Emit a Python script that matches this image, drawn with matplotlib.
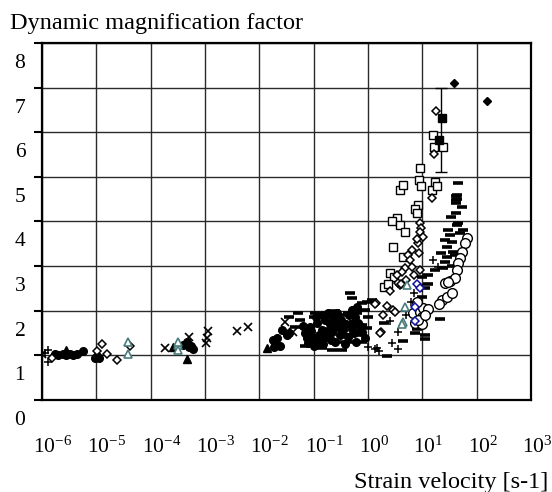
import matplotlib
matplotlib.use('Agg')
import matplotlib.pyplot as plt
import matplotlib.transforms as mtransforms

plt.rcParams['font.family'] = ['Liberation Serif', 'DejaVu Serif']
plt.rcParams['mathtext.fontset'] = 'custom'
plt.rcParams['mathtext.rm'] = 'Liberation Serif'
plt.rcParams['mathtext.it'] = 'Liberation Serif:italic'

# strain velocity [1/s] and dynamic magnification factor per marker group
filled_circle_x = [1.74e-6, 2.0e-6, 2.4e-6, 2.8e-6, 3.3e-6, 3.8e-6, 4.4e-6, 5.6e-6, 9.5e-6, 1.05e-5, 1.1e-5,
                   4.0e-4, 4.7e-4, 5.1e-4, 5.6e-4, 6.0e-4,
                   1.8e-2, 1.9e-2, 1.95e-2, 2.1e-2, 2.4e-2, 2.6e-2, 3.2e-2, 3.5e-2,
                   0.069, 0.085, 0.095, 0.115, 0.14, 0.16, 0.18, 0.23, 0.27, 0.17, 0.22, 0.28, 0.35, 0.43,
                   0.51, 0.58, 0.66, 0.78, 0.89, 0.63, 0.117, 0.078, 0.10, 0.20, 0.32, 0.14, 0.40, 0.50,
                   0.25, 0.063, 0.126, 0.075, 0.09, 0.13, 0.19, 0.30, 0.45, 0.55, 0.70,
                   0.11, 0.15, 0.21, 0.26, 0.37, 0.48, 0.60]
filled_circle_y = [1.02, 1.0, 1.03, 1.0, 1.04, 1.0, 1.02, 1.1, 0.94, 0.98, 0.95,
                   1.23, 1.3, 1.19, 1.22, 1.15,
                   1.35, 1.19, 1.3, 1.39, 1.22, 1.57, 1.46, 1.5,
                   1.5, 1.64, 1.41, 1.73, 1.57, 1.79, 1.95, 1.86, 1.95, 1.41, 1.52, 1.64, 1.57, 1.41,
                   2.02, 1.86, 1.73, 1.52, 1.39, 2.09, 1.3, 1.28, 1.2, 1.7, 1.8, 1.9, 1.7, 1.6,
                   1.3, 1.65, 1.45, 1.4, 1.55, 1.35, 1.5, 1.45, 1.9, 1.5, 1.65,
                   1.85, 1.25, 1.35, 1.75, 1.25, 1.7, 1.3]

dash_x = [0.046, 0.056, 0.051, 0.105, 0.069, 0.115, 0.14, 0.22, 0.31, 0.47, 0.51, 0.78, 0.95, 1.17,
          0.87, 0.78, 0.95, 0.78, 0.51, 0.33, 0.20, 0.35, 0.56, 0.40, 0.035, 0.10, 0.25, 0.63, 1.0, 0.71,
          2.0, 4.4, 7.4, 11.2, 11.2, 21, 2.2, 7.9, 10, 11.2, 12.6, 17, 12.6, 10,
          44, 43, 41, 54, 41, 33, 46, 44, 30, 49, 26, 35, 28, 37, 26, 46, 42, 42, 32, 40, 24, 35, 22, 28, 56,
          0.08, 0.17, 0.29, 0.42, 0.65]
dash_y = [1.64, 1.79, 1.95, 1.95, 1.21, 1.19, 1.17, 1.12, 1.3, 2.4, 2.29, 2.17, 2.2, 2.24,
          2.02, 1.68, 1.61, 1.3, 1.3, 1.12, 1.6, 1.9, 1.75, 1.45, 1.85, 1.85, 2.0, 1.95, 1.85, 1.45,
          1.73, 1.32, 1.5, 1.46, 1.37, 1.82, 0.99, 1.6, 2.3, 2.5, 2.6, 2.91, 2.8, 2.75,
          4.6, 4.5, 4.41, 4.33, 4.19, 4.1, 3.97, 3.92, 3.81, 3.74, 3.59, 3.54, 3.43, 3.32, 3.09,
          4.87, 4.57, 4.48, 3.7, 3.25, 2.95, 3.0, 3.3, 3.2, 3.8,
          1.55, 1.45, 1.6, 1.95, 1.55]

open_diamond_x = [1.5e-6, 1.26e-5, 1.6e-5, 2.4e-5, 1.02e-5, 4.2e-5,
                  1.41, 1.9, 1.74, 1.35, 2.2, 2.9, 3.2, 1.66, 3.9, 3.5,
                  9.1, 9.5, 9.1, 10.2, 8.3, 7.9, 6.5, 5.5, 5.9, 4.8, 4.3, 3.4, 6.5, 9.1, 5.0, 7.1, 4.0, 8.7, 2.5,
                  18, 16.6, 15.1]
open_diamond_y = [0.94, 1.25, 1.03, 0.9, 1.1, 1.21,
                  2.17, 1.9, 1.52, 2.15, 2.1, 2.02, 1.98, 1.5, 2.58, 2.62,
                  3.97, 3.85, 3.77, 3.65, 3.52, 3.6, 3.36, 3.25, 3.14, 2.96, 2.87, 2.8, 2.98, 2.91, 2.7, 2.8, 2.6, 3.3, 2.45,
                  6.48, 5.52, 4.53]

open_square_x = [3.9, 15, 8.3, 7.4, 7.9, 3.4, 2.75, 3.9, 4.8, 2.9, 4.4, 2.5, 3.0, 2.0,
                 9.1, 4.4, 8.7, 9.5, 17, 18.6, 15.8, 16.6, 24, 2.3]
open_square_y = [4.71, 4.71, 4.37, 4.28, 4.19, 4.08, 4.01, 3.92, 3.77, 3.43, 3.21, 2.85, 2.76, 2.53,
                 5.2, 4.82, 4.93, 4.8, 4.89, 4.8, 5.94, 5.67, 5.67, 2.6]

open_circle_x = [6.8, 9.1, 10.2, 12.6, 9.8, 7.4, 23, 28, 35, 26, 32, 66, 60, 54, 49, 46, 44, 40, 30,
                 10, 8.3, 11.2, 7.9, 20]
open_circle_y = [1.95, 1.97, 2.06, 2.04, 1.86, 1.73, 2.24, 2.31, 2.4, 2.62, 2.66, 3.63, 3.52, 3.32, 3.18,
                 3.07, 2.91, 2.74, 2.65, 1.7, 1.8, 1.9, 2.2, 2.15]

plus_x = [1.3e-6, 1.3e-6, 1.12e-6, 1.0, 1.35, 1.58, 2.5, 3.5, 2.75, 3.5, 1.48, 15.8, 19.5, 10, 6.3, 5.0, 7.1]
plus_y = [1.12, 0.85, 1.05, 1.19, 1.14, 1.1, 1.77, 1.52, 1.28, 1.14, 1.17, 3.14, 2.98, 2.5, 2.2, 1.9, 2.4]

cross_x = [1.0e-6, 1.8e-4, 5.1e-4, 1.15e-3, 1.1e-3, 1.05e-3, 3.9e-3, 6.3e-3, 2.95e-2, 4.2e-2]
cross_y = [1.03, 1.17, 1.41, 1.55, 1.39, 1.28, 1.55, 1.64, 1.75, 1.52]

triangle_x = [2.75e-6, 2.6e-4, 4.7e-4, 1.4e-2]
triangle_y = [1.12, 1.19, 0.92, 1.17]

teal_triangle_x = [3.8e-5, 3.8e-5, 3.2e-4, 3.2e-4, 3.2e-4, 4.8, 4.5, 5.2, 4.2]
teal_triangle_y = [1.3, 1.03, 1.23, 1.12, 1.3, 2.09, 1.75, 2.58, 1.7]

blue_diamond_x = [7.9, 7.4, 7.4, 8.9]
blue_diamond_y = [2.6, 2.09, 1.77, 2.5]

filled_diamond_x = [38, 155]
filled_diamond_y = [7.1, 6.7]

filled_square_x = [23, 20.4]
filled_square_y = [6.32, 5.83]

errbar_x = [22]
errbar_y = [6.05]
errbar_err = [0.95]

decades = [1e-6, 1e-5, 1e-4, 1e-3, 1e-2, 1e-1, 1e0, 1e1, 1e2, 1e3]
decade_labels = ['$\\mathregular{10^{-6}}$', '$\\mathregular{10^{-5}}$', '$\\mathregular{10^{-4}}$',
                 '$\\mathregular{10^{-3}}$', '$\\mathregular{10^{-2}}$', '$\\mathregular{10^{-1}}$',
                 '$\\mathregular{10^{0}}$', '$\\mathregular{10^{1}}$', '$\\mathregular{10^{2}}$',
                 '$\\mathregular{10^{3}}$']
y_ticks = [0, 1, 2, 3, 4, 5, 6, 7, 8]

fig = plt.figure(figsize=(5.52, 4.92), dpi=100)
ax = fig.add_axes([0.076, 0.187, 0.886, 0.7256])
ax.set_xscale('log')
ax.set_xlim(1e-6, 1e3)
ax.set_ylim(0, 8)

ax.errorbar(errbar_x, errbar_y, yerr=errbar_err, fmt='none', ecolor='black', elinewidth=1.0,
            capsize=4, capthick=1.0, zorder=3)

ax.plot(dash_x, dash_y, ls='none', marker='_', ms=7, mew=2.6, color='black', zorder=4)
ax.plot(filled_circle_x, filled_circle_y, ls='none', marker='o', ms=5.5, color='black', zorder=4)
ax.plot(open_circle_x, open_circle_y, ls='none', marker='o', ms=7, mfc='white', mec='black', mew=1.0, zorder=5)
ax.plot(open_square_x, open_square_y, ls='none', marker='s', ms=5.5, mfc='white', mec='black', mew=1.0, zorder=5)
ax.plot(open_diamond_x, open_diamond_y, ls='none', marker='D', ms=4, mfc='white', mec='black', mew=1.1, zorder=5)
ax.plot(plus_x, plus_y, ls='none', marker='+', ms=6, mew=1.1, color='black', zorder=5)
ax.plot(cross_x, cross_y, ls='none', marker='x', ms=5.5, mew=1.2, color='black', zorder=5)
ax.plot(triangle_x, triangle_y, ls='none', marker='^', ms=6, color='black', zorder=5)
ax.plot(teal_triangle_x, teal_triangle_y, ls='none', marker='^', ms=6, mfc='white', mec='#4a7c7c', mew=1.2, zorder=6)
ax.plot(blue_diamond_x, blue_diamond_y, ls='none', marker='D', ms=4, mfc='white', mec='#1010a0', mew=1.1, zorder=6)
ax.plot(filled_diamond_x, filled_diamond_y, ls='none', marker='D', ms=4.5, color='black', zorder=6)
ax.plot(filled_square_x, filled_square_y, ls='none', marker='s', ms=5.5, color='black', zorder=6)

ax.set_xticks(decades)
ax.set_xticklabels(decade_labels, fontsize=15.5)
ax.minorticks_off()
ax.set_yticks(y_ticks)
ax.set_yticklabels([str(v) for v in y_ticks], fontsize=15.5)
ax.grid(True, color='#2a2a2a', linewidth=1.0)
ax.set_axisbelow(True)
ax.tick_params(axis='x', length=0, pad=26)
ax.tick_params(axis='y', length=6, width=1.5, direction='out', pad=6)

# labels sit a little off the grid lines in the original
dx = mtransforms.ScaledTranslation(-9 / 100, 0, fig.dpi_scale_trans)
for lab in ax.get_xticklabels():
    lab.set_horizontalalignment('left')
    lab.set_transform(lab.get_transform() + dx)
dy = mtransforms.ScaledTranslation(0, -18 / 100, fig.dpi_scale_trans)
for lab in ax.get_yticklabels():
    lab.set_transform(lab.get_transform() + dy)

for s in ax.spines.values():
    s.set_linewidth(1.6)
    s.set_color('black')

fig.text(10 / 552, 1 - 29 / 492, 'Dynamic magnification factor', fontsize=17.5, va='baseline', ha='left')
fig.text(548 / 552, 1 - 488 / 492, 'Strain velocity [s-1]', fontsize=17.5, va='baseline', ha='right')

fig.savefig('out.png', dpi=100)
